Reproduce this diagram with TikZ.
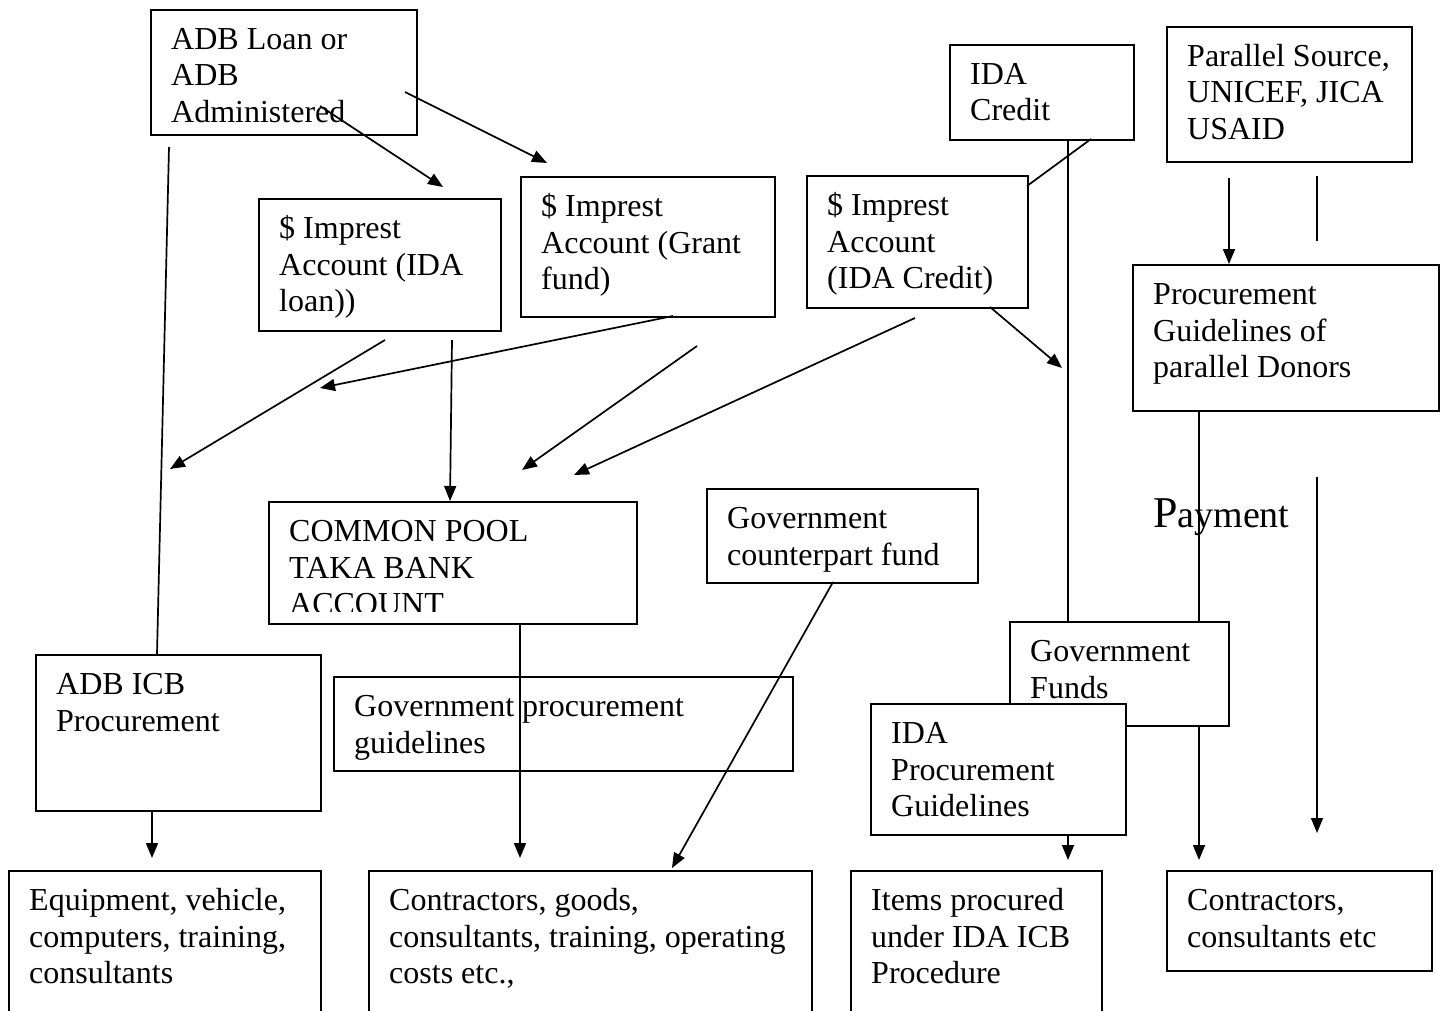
\documentclass[tikz,border=0pt]{standalone}
\usepackage{fontspec}
\setmainfont{Liberation Serif}
\usetikzlibrary{arrows.meta,calc}
\newcommand\tbox[5]{\node[box, minimum width=#4pt, minimum height=#5pt] (#1) at (#2,#3) {};}
\newcommand\ttext[2]{\node[txt] (#1-t) at ([shift={(21,14.24)}]#1.north west) {\strut #2};}
\begin{document}
\begin{tikzpicture}[x=1pt,y=-1pt,
  box/.style={draw, line width=1.7pt, fill=white, anchor=north west, inner sep=0pt},
  txt/.style={anchor=north west, inner sep=0pt, align=left, font={\fontsize{32}{36.8}\selectfont}},
  conn/.style={line width=1.7pt},
  arr/.style={conn, -{Triangle[length=15pt,width=12pt]}}]
\useasboundingbox (0,0) rectangle (1445,1011);
\clip (0,0) rectangle (1445,1011);

% boxes and texts
\tbox{adb}{150}{9}{266}{125}
\ttext{adb}{ADB Loan or\\ADB\\Administered}
\tbox{idac}{949}{44}{184}{95}
\ttext{idac}{IDA\\Credit}
\tbox{par}{1166}{26}{245}{135}
\ttext{par}{Parallel Source,\\UNICEF, JICA\\USAID}
\tbox{imp1}{258}{198}{242}{132}
\ttext{imp1}{\$ Imprest\\Account (IDA\\loan))}
\tbox{imp2}{520}{176}{254}{140}
\ttext{imp2}{\$ Imprest\\Account (Grant\\fund)}
\tbox{imp3}{806}{175}{221}{132}
\ttext{imp3}{\$ Imprest\\Account\\(IDA Credit)}
\tbox{pgd}{1132}{264}{306}{146}
\ttext{pgd}{Procurement\\Guidelines of\\parallel Donors}
\tbox{pool}{268}{501}{368}{122}
\begin{scope}
\clip (268,501) rectangle (636,611);
\ttext{pool}{COMMON POOL\\TAKA BANK\\ACCOUNT}
\end{scope}
\tbox{gcf}{706}{488}{271}{94}
\ttext{gcf}{Government\\counterpart fund}
\tbox{icb}{35}{654}{285}{156}
\ttext{icb}{ADB ICB\\Procurement}
\tbox{gpg}{333}{676}{459}{94}
\ttext{gpg}{Government procurement\\guidelines}
\tbox{gf}{1009}{621}{219}{104}
\ttext{gf}{Government\\Funds}
\tbox{idap}{870}{703}{255}{131}
\ttext{idap}{IDA\\Procurement\\Guidelines}
\tbox{eq}{8}{870}{312}{160}
\ttext{eq}{Equipment, vehicle,\\computers, training,\\consultants}
\tbox{cg}{368}{870}{443}{160}
\ttext{cg}{Contractors, goods,\\consultants, training, operating\\costs etc.,}
\tbox{items}{850}{870}{251}{160}
\ttext{items}{Items procured\\under IDA ICB\\Procedure}
\tbox{cc}{1166}{870}{265}{100}
\ttext{cc}{Contractors,\\consultants etc}

\node[anchor=base west, inner sep=0pt] (pay) at (1153,527)
  {\fontsize{44}{50}\selectfont P\fontsize{38}{44}\selectfont ayment};

% free ends of connectors
\coordinate (a1s) at (320,106);  \coordinate (a1e) at (443,187);
\coordinate (a2s) at (405,92);   \coordinate (a2e) at (547,163);
\coordinate (l3s) at (169,147);  \coordinate (l3e) at (157,654);
\coordinate (a4s) at (152,810);  \coordinate (a4e) at (152,858);
\coordinate (a5s) at (385,340);  \coordinate (a5e) at (170,469);
\coordinate (a6s) at (452,340);  \coordinate (a6e) at (450,501);
\coordinate (a7s) at (673,316);  \coordinate (a7e) at (320,388);
\coordinate (a8s) at (697,346);  \coordinate (a8e) at (522,470);
\coordinate (a9s) at (915,318);  \coordinate (a9e) at (574,475);
\coordinate (l10s) at (1091,139); \coordinate (l10e) at (1027,186);
\coordinate (l11s) at (1068,139); \coordinate (l11e) at (1068,621);
\coordinate (a12s) at (990,307); \coordinate (a12e) at (1062,368);
\coordinate (a13s) at (1229,178); \coordinate (a13e) at (1229,264);
\coordinate (l14s) at (1317,176); \coordinate (l14e) at (1317,241);
\coordinate (l15s) at (1199,410); \coordinate (l15e) at (1199,621);
\coordinate (a16s) at (1199,725); \coordinate (a16e) at (1199,860);
\coordinate (a17s) at (1317,477); \coordinate (a17e) at (1317,833);
\coordinate (a18s) at (1068,834); \coordinate (a18e) at (1068,860);
\coordinate (a19s) at (520,623); \coordinate (a19e) at (520,858);
\coordinate (a20s) at (833,582); \coordinate (a20e) at (672,868);

\draw[arr] (a1s) -- (a1e);
\draw[arr] (a2s) -- (a2e);
\draw[conn] (l3s) -- (l3e);
\draw[arr] (a4s) -- (a4e);
\draw[arr] (a5s) -- (a5e);
\draw[arr] (a6s) -- (a6e);
\draw[arr] (a7s) -- (a7e);
\draw[arr] (a8s) -- (a8e);
\draw[arr] (a9s) -- (a9e);
\draw[conn] (l10s) -- (l10e);
\draw[conn] (l11s) -- (l11e);
\draw[arr] (a12s) -- (a12e);
\draw[arr] (a13s) -- (a13e);
\draw[conn] (l14s) -- (l14e);
\draw[conn] (l15s) -- (l15e);
\draw[arr] (a16s) -- (a16e);
\draw[arr] (a17s) -- (a17e);
\draw[arr] (a18s) -- (a18e);
\draw[arr] (a19s) -- (a19e);
\draw[arr] (a20s) -- (a20e);
\end{tikzpicture}
\end{document}
